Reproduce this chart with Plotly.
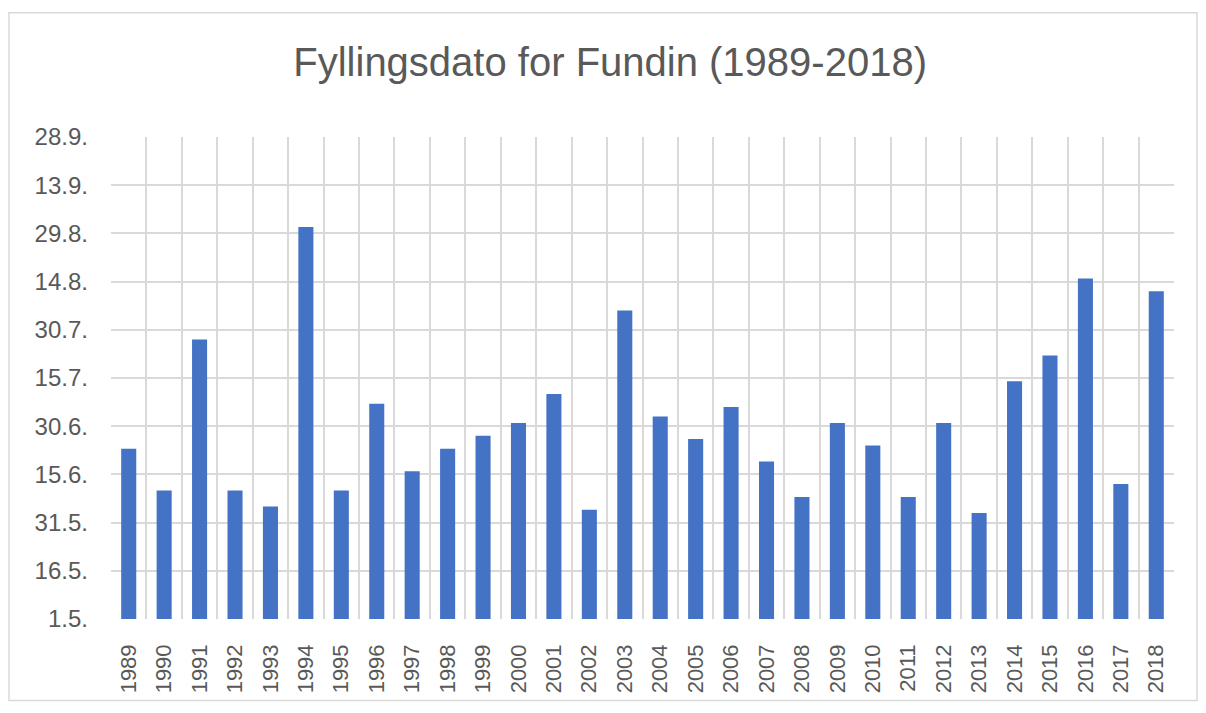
import plotly.graph_objects as go

# Filling date per year, stored as days after 1 May (1.5. = 0)
years = [str(y) for y in range(1989, 2019)]
days_after_may1 = [53, 40, 87, 40, 35, 122, 40, 67, 46, 53,
                   57, 61, 70, 34, 96, 63, 56, 66, 49, 38,
                   61, 54, 38, 61, 33, 74, 82, 106, 42, 102]

tick_days = [0, 15, 30, 45, 60, 75, 90, 105, 120, 135, 150]
tick_labels = ["1.5.", "16.5.", "31.5.", "15.6.", "30.6.", "15.7.",
               "30.7.", "14.8.", "29.8.", "13.9.", "28.9."]

# page has an 8px body margin, so the figure is a bit smaller than the window
W, H = 1190, 697
L, R, T, B = 103, 24, 129, 83

fig = go.Figure()
fig.add_trace(go.Bar(x=years, y=days_after_may1, marker=dict(color="#4472C4", line=dict(width=0))))

# outer chart border, converted from pixels to paper coordinates
pw, ph = W - L - R, H - T - B
def px_x(p):
    return (p - L) / pw
def px_y(p):
    return (H - B - p) / ph

fig.add_shape(type="rect", xref="paper", yref="paper",
              x0=px_x(1), x1=px_x(1189), y0=px_y(696), y1=px_y(4),
              line=dict(color="#d9d9d9", width=1.5), fillcolor="rgba(0,0,0,0)", layer="below")

fig.update_layout(
    width=W, height=H,
    margin=dict(l=L, r=R, t=T, b=B),
    paper_bgcolor="white", plot_bgcolor="white",
    bargap=0.575,
    showlegend=False,
    title=dict(text="Fyllingsdato for Fundin (1989-2018)", x=0.506, xref="container", xanchor="center",
               y=0.922, yanchor="middle",
               font=dict(family="Liberation Sans", size=40, color="#595959")),
    font=dict(family="Liberation Sans", color="#595959"),
)
fig.update_xaxes(type="category", tickangle=-90, tickson="boundaries", showgrid=True,
                 gridcolor="#d9d9d9", gridwidth=1.5, ticks="", showline=False,
                 ticklabelstandoff=20,
                 tickfont=dict(size=22, color="#595959"))
fig.update_yaxes(range=[0, 150], tickvals=tick_days, ticktext=tick_labels, showgrid=True,
                 gridcolor="#d9d9d9", gridwidth=1.5, zeroline=False, ticks="", showline=False,
                 ticklabelstandoff=22,
                 tickfont=dict(size=24, color="#595959"))

fig.write_html("out.html")
